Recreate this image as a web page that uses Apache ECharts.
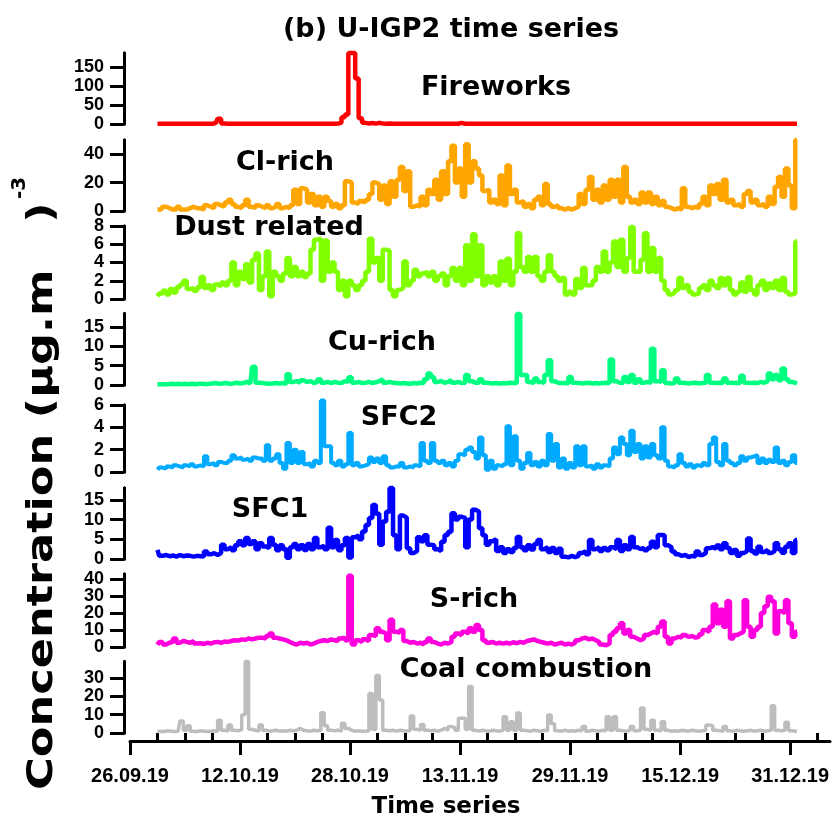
<!DOCTYPE html>
<html><head><meta charset="utf-8">
<script src="https://cdn.jsdelivr.net/npm/echarts@6/dist/echarts.min.js"></script>
<style>html,body{margin:0;padding:0;background:#fff}#c{width:834px;height:822px}</style>
</head><body><div id="c"></div>
<script>
// ---------- DATA ----------
// sampling grid: days since 26.09.19, first sample 30.09.19, every 12 h
const START_DAY = 4;
const STEP_DAY = 0.5;
const X_MAX_DAY = 101.8;
const xTickDays = [0, 16, 32, 48, 64, 80, 96];
const xMinorDays = [4, 8, 12, 20, 24, 28, 36, 40, 44, 52, 56, 60, 68, 72, 76, 84, 88, 92, 100];
const xTickLabels = ['26.09.19', '12.10.19', '28.10.19', '13.11.19', '29.11.19', '15.12.19', '31.12.19'];
const panelNames = ['Fireworks', 'Cl-rich', 'Dust related', 'Cu-rich', 'SFC2', 'SFC1', 'S-rich', 'Coal combustion'];

const fireworks = [
0.5,0.6,0.5,0.5,0.7,0.5,0.6,0.5,0.5,0.6, 0.5,0.6,0.5,0.7,0.5,0.6,0.8,3,14,1.5,
0.6,0.5,0.7,0.5,0.6,0.5,0.8,0.6,0.5,0.7, 0.5,0.6,0.5,0.8,0.6,0.5,0.7,0.5,0.6,0.5,
0.6,0.5,0.8,0.6,0.5,0.7,0.6,0.5,0.8,0.6, 0.7,0.9,1.5,3,18,25,187,187,120,15,
3,1.5,2.5,1,3,1.2,0.8,1,0.7,0.6, 0.6,0.5,0.7,0.6,0.5,0.6,0.5,0.7,0.5,0.6,
0.5,0.6,0.5,0.7,0.6,0.5,0.8,0.6,3,0.7, 0.6,0.5,0.7,0.5,0.6,0.5,0.6,0.5,0.7,0.5,
0.6,0.5,0.7,0.5,0.6,0.5,0.6,0.5,0.6,0.5, 0.5,0.6,0.5,0.6,0.5,0.7,0.5,0.6,0.5,0.6,
0.5,0.6,0.5,0.6,0.5,0.6,0.5,0.7,0.5,0.6, 0.6,0.5,0.6,0.5,0.7,0.5,0.6,0.5,0.6,0.5,
0.5,0.6,0.5,0.6,0.5,0.6,0.5,0.6,0.5,0.6, 0.6,0.5,0.6,0.5,0.6,0.5,0.7,0.5,0.6,0.5,
0.5,0.6,0.5,0.6,0.5,0.6,0.5,0.6,0.5,0.6, 0.6,0.5,0.6,0.5,0.6,0.5,0.6,0.5,0.6,0.5,
0.5,0.6,0.5,0.6,0.5,0.6,0.5];

const clRich = [
1,1,3,2,1,1,3,1,1,2, 3,2,2,1,4,3,2,5,4,3,
6,8,5,3,2,4,8,3,2,4, 3,2,4,2,3,5,2,3,2,4,
15,5,16,15,6,12,4,10,3,10, 7,3,5,2,4,21,20,6,5,7,
6,8,12,20,19,8,18,5,21,10, 22,31,14,28,3,4,3,10,4,15,
12,22,8,28,12,35,46,20,30,10, 47,20,35,30,25,14,15,6,8,5,
25,4,32,12,15,6,7,3,5,2, 8,10,4,19,5,3,4,2,1,2,
1,2,3,12,5,15,24,8,15,6, 18,8,22,10,22,6,31,10,6,8,
5,13,6,13,5,10,4,7,3,2, 1,2,1,16,3,2,3,2,5,10,
4,18,12,19,8,22,6,8,4,5, 3,12,14,6,8,4,5,3,10,5,
17,24,10,30,18,2,50];

const dustRelated = [
0.3,0.6,0.9,0.5,1.1,0.7,1.3,1.6,2.0,1.1, 1.2,0.9,1.3,2.4,1.2,1.5,1.0,1.6,1.4,1.8,
1.5,2.0,4.0,1.5,3.0,2.2,3.8,1.8,4.3,5.0, 1.0,2.5,5.2,0.3,3.0,2.5,2.0,2.8,4.5,2.5,
3.5,2.5,3.0,2.4,2.8,5.4,6.5,6.6,2.0,6.4, 3.0,4.0,3.0,1.0,2.0,0.3,2.0,1.5,1.0,1.5,
2.0,3.0,6.6,4.0,4.5,2.0,5.4,5.3,1.0,0.3, 1.0,1.2,4.1,1.5,2.0,3.2,2.5,2.8,3.0,2.5,
3.0,2.0,2.5,2.8,1.5,2.5,3.4,2.0,3.4,1.5, 5.9,2.0,7.1,2.5,5.9,1.5,2.5,1.8,2.5,1.5,
4.1,2.0,4.4,1.5,3.0,7.2,3.5,3.0,4.6,3.0, 4.6,2.5,2.0,3.0,4.8,3.0,2.5,2.0,2.3,0.5,
0.8,0.5,2.2,1.2,3.4,1.5,1.5,2.0,3.5,3.0, 5.2,3.0,4.0,6.3,3.5,6.5,3.0,4.5,7.9,3.0,
3.0,4.3,7.2,3.0,5.6,3.0,4.5,2.0,1.0,0.5, 0.7,1.0,2.3,1.2,1.5,0.8,0.5,0.6,1.2,1.5,
1.0,2.0,1.5,1.2,2.3,1.5,2.3,1.0,0.5,0.8, 1.8,0.8,2.4,1.0,0.5,1.5,2.0,1.0,1.7,1.2,
2.0,1.0,2.3,0.8,0.5,0.6,6.3];

const cuRich = [
0.2,0.2,0.2,0.2,0.3,0.2,0.3,0.2,0.3,0.2, 0.3,0.2,0.3,0.3,0.2,0.3,0.4,0.5,0.3,0.4,
0.5,0.3,0.4,0.6,0.4,0.5,0.8,0.4,4.7,0.6, 0.5,0.4,0.3,0.4,0.5,0.4,0.5,0.3,2.8,0.8,
1.0,0.6,1.2,0.8,1.0,0.5,0.8,1.5,0.6,0.8, 0.5,0.8,0.6,0.5,1.0,0.8,2.0,0.6,0.8,0.5,
0.6,0.8,0.5,0.7,1.0,1.5,0.6,0.8,0.6,0.5, 0.4,0.5,0.4,0.3,0.5,0.4,0.6,0.5,1.5,3.0,
2.0,0.8,1.0,0.6,0.8,1.2,0.6,0.8,0.5,0.6, 2.6,1.0,0.6,0.5,1.5,0.6,0.5,0.4,0.5,0.4,
0.5,0.4,0.6,0.5,0.5,18.4,2.6,2.6,0.8,0.5, 1.7,0.8,0.6,2.6,6.4,1.0,0.6,0.5,0.5,0.4,
2.1,0.6,0.5,0.4,0.5,0.6,0.4,0.5,0.4,0.5, 0.6,0.5,6.6,1.0,0.6,0.5,2.1,0.8,2.6,0.6,
1.5,0.6,0.8,0.6,9.4,1.0,0.8,3.8,0.5,0.4, 0.5,1.7,0.6,0.5,0.4,0.5,0.6,0.4,0.5,0.6,
2.6,0.6,0.5,0.6,0.5,1.7,0.6,0.5,0.6,0.5, 2.4,0.6,0.5,0.6,0.5,0.8,0.6,1.0,3.0,1.5,
2.6,1.2,4.3,1.5,0.8,0.6,0.4];

const sfc2 = [
0.2,0.4,0.3,0.5,0.4,0.6,0.5,0.4,0.6,0.5, 0.7,0.5,0.6,0.5,1.4,0.7,0.8,0.6,0.9,0.8,
0.8,1.0,1.5,1.2,1.3,1.1,1.2,1.0,1.3,1.2, 1.2,1.0,2.4,1.0,1.2,1.6,0.8,0.3,2.6,0.8,
2.0,0.8,1.8,0.7,0.8,0.5,1.0,0.8,6.4,2.3, 2.3,0.8,0.6,1.0,0.5,0.7,3.5,0.6,0.8,0.5,
0.6,0.7,1.3,0.9,1.2,0.8,1.4,0.6,0.4,0.5, 0.5,0.8,0.4,0.5,0.4,0.6,0.5,2.6,1.0,0.8,
2.6,1.0,0.8,1.0,0.6,0.8,0.5,1.0,1.6,1.5, 2.0,2.2,1.8,1.2,3.1,1.5,0.2,1.0,0.3,0.6,
0.5,0.7,4.1,0.6,3.2,1.0,0.3,0.8,1.7,0.6, 0.9,0.5,1.0,0.6,3.4,1.0,2.5,0.4,1.2,0.3,
0.8,0.4,2.3,0.6,2.3,0.5,0.6,0.3,0.7,0.4, 0.6,0.5,1.2,2.2,1.6,3.1,2.5,1.5,3.7,1.8,
2.5,1.2,2.3,1.3,2.5,1.5,1.2,4.0,1.0,0.5, 0.4,0.6,1.6,0.8,0.5,0.7,0.4,0.6,0.5,0.8,
0.6,2.5,3.1,0.9,0.6,2.5,1.0,0.8,0.6,0.8, 1.4,1.0,1.3,1.4,1.5,0.8,1.2,0.8,1.1,0.9,
2.2,0.8,1.0,0.6,0.9,1.5,0.8];

const sfc1 = [
2.3,0.8,1.0,0.7,0.9,0.6,1.0,0.7,0.9,0.8, 0.6,0.8,0.7,0.6,1.9,1.2,1.5,1.0,1.5,3.6,
2.5,3.0,2.2,3.5,4.5,3.5,5.3,3.8,4.5,2.5, 4.0,3.2,2.8,5.3,3.6,2.2,3.5,2.5,0.3,3.0,
3.8,2.5,3.5,2.3,3.8,2.5,5.3,3.0,3.3,2.5, 7.9,3.0,4.8,2.2,3.5,5.3,0.4,5.5,6.0,5.0,
7.0,8.6,10.4,13.7,11.5,3.6,9.5,12.0,18.0,6.0, 2.5,11.0,10.5,2.7,1.5,2.0,5.5,4.5,6.0,3.6,
3.5,2.5,2.0,4.4,6.1,6.9,11.6,10.0,10.7,10.4, 3.0,10.0,12.5,12.0,7.8,6.0,3.6,4.5,5.0,2.0,
3.0,1.5,2.5,1.8,2.8,5.6,3.0,2.2,3.5,2.4, 3.8,4.8,2.5,3.0,1.8,2.8,1.5,2.6,0.6,0.4,
0.8,0.5,0.8,1.5,2.0,1.2,4.8,2.5,3.0,2.0, 2.8,2.2,3.0,2.5,4.8,2.0,3.5,2.5,5.6,3.0,
2.5,2.8,2.2,2.8,4.4,3.0,6.1,6.0,3.5,3.0, 1.9,1.2,0.8,1.0,0.5,0.8,0.6,1.9,1.0,1.5,
2.7,3.0,2.6,3.4,2.5,4.0,2.8,1.5,2.3,0.8, 1.5,2.0,5.2,2.0,1.4,3.1,1.8,2.3,1.5,2.0,
4.0,2.5,1.6,3.1,4.0,1.5,4.8];

const sRich = [
1.2,3.0,1.5,2.5,3.0,5.0,2.5,3.5,3.0,2.5, 3.5,2.0,2.2,1.8,2.5,2.0,2.8,3.0,2.5,3.2,
3.0,3.5,4.0,3.8,4.5,4.2,5.0,4.5,5.0,5.5, 5.5,5.0,6.5,8.0,5.5,5.0,4.5,4.0,3.0,2.0,
1.5,2.5,2.0,2.5,1.5,2.0,3.0,3.5,4.0,3.5, 4.5,4.0,3.5,5.0,5.5,4.0,42,1.5,4.0,3.0,
4.5,3.5,7.0,6.5,11.0,9.0,8.0,4.0,16.0,9.0, 8.5,10.0,3.5,2.5,3.0,2.0,2.5,1.5,3.0,5.0,
3.0,2.0,1.5,2.5,2.0,3.0,6.0,8.0,7.0,9.0, 8.0,11.0,9.0,13.0,10.0,4.0,2.5,3.0,2.0,2.5,
2.0,2.5,2.0,2.8,2.2,3.0,2.5,3.5,4.0,4.5, 3.5,3.0,2.5,2.0,2.5,1.5,2.0,2.5,1.5,2.0,
1.5,2.5,4.0,5.0,5.5,4.5,5.0,4.0,3.0,1.5, 1.0,2.0,7.0,9.0,11.0,14.0,8.0,10.0,6.0,5.0,
4.0,5.0,7.0,8.0,9.0,8.0,12.0,15.0,6.0,2.0, 5.0,6.0,5.5,7.0,6.0,6.5,5.5,6.0,7.5,10.0,
9.0,12.0,25.0,14.0,22.0,12.0,27.0,5.0,7.0,8.0, 9.0,27.6,12.0,6.0,10.0,12.0,20.0,24.0,29.6,27.0,
8.0,21.0,20.0,27.6,14.0,6.0,9.0];

const coalCombustion = [
0.8,1.0,0.8,1.2,1.0,0.8,1.0,6.5,1.5,4.0, 1.0,0.8,1.2,1.0,0.8,1.0,1.2,1.0,7.0,1.5,
1.0,4.4,1.5,1.2,1.8,10.0,39,2.0,1.5,1.0, 4.4,1.5,1.0,1.2,1.5,1.0,1.2,1.0,1.5,1.2,
1.5,2.5,1.5,1.2,1.0,1.5,1.2,1.5,11.0,4.0, 1.5,1.2,1.5,1.0,5.3,2.5,1.5,1.0,1.2,1.0,
1.0,1.2,21.6,2.0,31.3,18.0,1.5,1.2,1.5,1.0, 1.5,1.2,1.0,1.5,9.3,2.0,1.5,4.7,1.5,1.2,
1.5,1.0,1.5,2.5,1.5,3.5,3.0,1.5,8.0,8.0, 2.0,25.3,1.5,1.0,1.5,1.2,1.0,1.5,1.2,1.0,
1.5,8.9,1.5,6.2,1.5,10.9,1.5,1.2,1.0,1.5, 1.2,1.0,1.5,1.2,9.8,5.0,1.2,1.0,1.5,1.0,
1.2,1.0,1.5,1.2,3.5,1.0,1.5,1.2,1.0,1.5, 1.2,8.9,1.5,8.9,1.5,1.2,1.0,1.5,3.5,1.2,
1.5,13.6,2.0,1.5,7.0,1.5,1.2,6.2,1.5,1.0, 1.2,1.0,1.5,1.2,1.0,1.5,1.2,1.0,1.2,1.5,
4.4,4.0,1.5,1.2,1.0,3.5,1.2,1.0,1.5,1.2, 1.0,1.2,1.5,1.0,1.2,1.5,1.0,1.2,1.5,14.8,
1.5,1.2,1.5,5.8,1.2,1.0,1.0];

const yMaxes = [187, 50, 8, 18.5, 6, 18, 43, 39];
const yTickValues = [[0,50,100,150],[0,20,40],[0,2,4,6,8],[0,5,10,15],[0,2,4,6],[0,5,10,15],[0,10,20,30,40],[0,10,20,30]];

// ---------- LAYOUT / STYLE ----------
const seriesValues = [fireworks, clRich, dustRelated, cuRich, sfc2, sfc1, sRich, coalCombustion];
const colors = ['#ff0000', '#ffa500', '#80ff00', '#00ff80', '#00aaff', '#0000ff', '#ff00dd', '#bdbdbd'];
const lineWidths = [4.5, 4.5, 4.5, 4.5, 4, 4.5, 4.5, 3.5];
const gridTops = [53, 140, 226, 313.5, 405, 488, 574, 661.5];
const gridHeights = [71, 71, 73, 71.5, 67, 71, 73, 71.5];
const labelPos = [[496, 88], [285, 163], [269, 228], [382, 343], [399, 418], [270, 510], [474, 600], [526, 670]];

const BOLD = 'Liberation Sans';
const HEAVY = 'DejaVu Sans';
const GRID_LEFT = 130, GRID_WIDTH = 700;
const N = seriesValues.length;
const grids = [], xAxes = [], yAxes = [], series = [];
const black3 = { color: '#000', width: 3 };

const yAxisDef = (k, values) => ({
  type: 'value', gridIndex: k, min: 0, max: yMaxes[k], position: 'left', offset: 6,
  axisLine: { show: true, onZero: false, lineStyle: black3 },
  axisTick: { show: true, length: 14, customValues: values, lineStyle: black3 },
  axisLabel: { customValues: values, margin: 20, color: '#000', fontFamily: BOLD, fontWeight: 'bold',
               fontSize: 18, showMinLabel: true, showMaxLabel: true, hideOverlap: false },
  splitLine: { show: false }
});

seriesValues.forEach((vals, k) => {
  grids.push({ left: GRID_LEFT, top: gridTops[k], width: GRID_WIDTH, height: gridHeights[k] });
  const isBottom = k === N - 1;
  xAxes.push({
    type: 'value', gridIndex: k, min: 0, max: X_MAX_DAY, show: isBottom,
    position: 'bottom', offset: 8,
    axisLine: { show: true, onZero: false, lineStyle: black3 },
    axisTick: { show: true, length: 14, customValues: xTickDays, lineStyle: black3 },
    splitLine: { show: false },
    axisLabel: {
      show: true, customValues: xTickDays, margin: 25, color: '#000',
      fontFamily: BOLD, fontWeight: 'bold', fontSize: 20, showMinLabel: true, showMaxLabel: true,
      formatter: v => { const i = xTickDays.indexOf(v); return i >= 0 ? xTickLabels[i] : ''; }
    }
  });
  // ticks/labels split over two coincident axes so that tightly packed labels are all kept
  yAxes.push(yAxisDef(k, yTickValues[k].filter((v, i) => i % 2 === 0)));
  series.push({
    type: 'line', name: panelNames[k], xAxisIndex: k, yAxisIndex: k,
    data: vals.map((v, i) => [START_DAY + STEP_DAY * i, v]),
    step: 'middle', showSymbol: false, symbol: 'none', clip: false,
    lineStyle: { color: colors[k], width: lineWidths[k] },
    itemStyle: { color: colors[k] }
  });
});
seriesValues.forEach((vals, k) => {
  yAxes.push(yAxisDef(k, yTickValues[k].filter((v, i) => i % 2 === 1)));
});
// minor ticks of the time axis (second x axis on the bottom grid)
xAxes.push({
  type: 'value', gridIndex: N - 1, min: 0, max: X_MAX_DAY, position: 'bottom', offset: 8,
  axisLine: { show: false },
  axisTick: { show: true, length: 7, customValues: xMinorDays, lineStyle: black3 },
  axisLabel: { show: false }, splitLine: { show: false }
});

const txt = (x, y, text, size, extra) => Object.assign({
  type: 'text', x, y, silent: true,
  style: { text, fill: '#000', fontFamily: HEAVY, fontWeight: 'bold', fontSize: size,
           textAlign: 'center', textVerticalAlign: 'middle', align: 'center', verticalAlign: 'middle' }
}, extra || {});

const graphics = [
  txt(451, 30, '(b) U-IGP2 time series', 27),
  txt(446, 807, 'Time series', 23),
  { type: 'text', x: 43, y: 790, rotation: Math.PI / 2, scaleX: 1.24, silent: true,
    style: { text: 'Concentration (µg.m   )', fill: '#000', fontFamily: HEAVY, fontWeight: 'bold', fontSize: 36,
             textAlign: 'left', textVerticalAlign: 'middle', align: 'left', verticalAlign: 'middle' } },
  txt(20, 188, '-3', 20, { rotation: Math.PI / 2 })
];
panelNames.forEach((n, k) => graphics.push(txt(labelPos[k][0], labelPos[k][1], n, 27)));

const chart = echarts.init(document.getElementById('c'), null, { renderer: 'canvas', width: 834, height: 822 });
chart.setOption({
  animation: false,
  backgroundColor: '#fff',
  grid: grids, xAxis: xAxes, yAxis: yAxes, series: series,
  graphic: graphics
});
</script>
</body></html>
